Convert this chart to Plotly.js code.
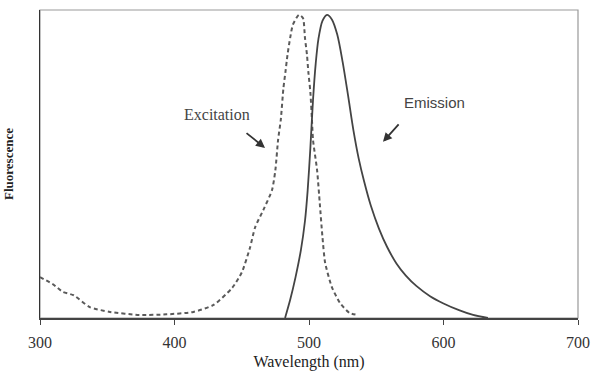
<!DOCTYPE html>
<html>
<head>
<meta charset="utf-8">
<script src="https://cdn.plot.ly/plotly-3.0.1.min.js"></script>
<style>html,body{margin:0;padding:0;background:#fff;}#chart{width:598px;height:380px;}</style>
</head>
<body>
<div id="chart"></div>
<script>
const excitationX = [300, 310, 317, 325, 337, 352, 374, 394, 414, 429, 443, 450, 456, 460, 466, 472.5, 475, 477, 479, 481, 482.5, 484, 486, 488, 492.5, 495.5, 497, 498.5, 499.5, 501, 502.2, 503, 506, 508, 510, 512, 517, 523, 530, 536];
const excitationY = [0.135, 0.11, 0.086, 0.075, 0.036, 0.020, 0.010, 0.012, 0.020, 0.043, 0.10, 0.15, 0.23, 0.30, 0.356, 0.422, 0.488, 0.587, 0.653, 0.759, 0.812, 0.868, 0.924, 0.967, 1.0, 0.99, 0.924, 0.868, 0.812, 0.746, 0.653, 0.587, 0.488, 0.379, 0.267, 0.182, 0.102, 0.050, 0.017, 0.010];
const emissionX = [482.2, 486, 490, 494, 497, 499, 501, 503, 505, 507, 510, 513.4, 517, 521, 525, 529, 533, 537, 541, 546, 552, 558, 565, 572, 580, 590, 600, 612, 622, 633];
const emissionY = [0, 0.06, 0.135, 0.225, 0.32, 0.42, 0.56, 0.72, 0.84, 0.92, 0.98, 1.0, 0.985, 0.935, 0.845, 0.735, 0.62, 0.525, 0.45, 0.37, 0.295, 0.235, 0.18, 0.14, 0.105, 0.072, 0.048, 0.025, 0.010, 0];
const xTicks = [300, 400, 500, 600, 700];
const labels = {excitation: "Excitation", emission: "Emission", xTitle: "Wavelength (nm)", yTitle: "Fluorescence"};

const serif = "Liberation Serif, Times New Roman, serif";
const sans = "Liberation Sans, Arial, sans-serif";
const traces = [
  {x: excitationX, y: excitationY, type: "scatter", mode: "lines", name: labels.excitation,
   line: {color: "#5a5a5a", width: 2, dash: "4px,3px", shape: "spline", smoothing: 0.6}},
  {x: emissionX, y: emissionY, type: "scatter", mode: "lines", name: labels.emission,
   line: {color: "#444", width: 1.8, shape: "spline", smoothing: 0.8}}
];
const layout = {
  width: 598, height: 380,
  margin: {l: 40, r: 20, t: 10, b: 62},
  paper_bgcolor: "#fff", plot_bgcolor: "#fff",
  showlegend: false,
  font: {family: serif, color: "#333"},
  xaxis: {range: [300, 700], tickvals: xTicks, ticktext: xTicks.map(String),
    showgrid: false, zeroline: false, showline: true, linecolor: "#444", linewidth: 1.5,
    ticks: "outside", ticklen: 5, tickcolor: "#444", ticklabelstandoff: 4,
    tickfont: {size: 16, family: serif, color: "#333"},
    title: {text: labels.xTitle, font: {size: 16, family: serif, color: "#222"}, standoff: 6}},
  yaxis: {range: [0, 1.016], showticklabels: false, showgrid: false, zeroline: false,
    showline: true, linecolor: "#333", linewidth: 1.5, ticks: "",
    title: {text: "<b>" + labels.yTitle + "</b>", font: {size: 13, family: serif, color: "#222"}, standoff: 22}},
  shapes: [
    {type: "rect", xref: "paper", yref: "paper", x0: 0, x1: 1, y0: 0, y1: 1,
     line: {color: "#999", width: 1.2}, layer: "below"}
  ],
  annotations: [
    {x: 467.3, y: 0.561, xref: "x", yref: "y", ax: -20, ay: -16, text: "", showarrow: true,
     arrowhead: 2, arrowsize: 1, arrowwidth: 1.8, arrowcolor: "#333"},
    {x: 457.6, y: 0.67, xref: "x", yref: "y", text: labels.excitation, showarrow: false,
     xanchor: "right", font: {size: 16, family: serif, color: "#444"}},
    {x: 555, y: 0.581, xref: "x", yref: "y", ax: 17, ay: -19, text: "", showarrow: true,
     arrowhead: 2, arrowsize: 1, arrowwidth: 1.8, arrowcolor: "#333"},
    {x: 569, y: 0.71, xref: "x", yref: "y", text: labels.emission, showarrow: false,
     xanchor: "left", font: {size: 15, family: sans, color: "#444"}}
  ]
};
Plotly.newPlot("chart", traces, layout, {displayModeBar: false, staticPlot: true});
</script>
</body>
</html>
